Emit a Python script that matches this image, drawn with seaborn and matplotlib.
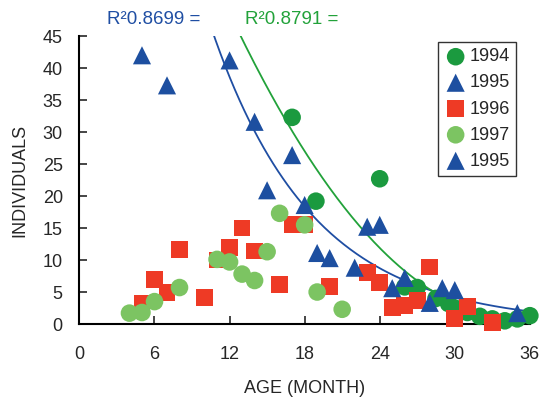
import numpy as np
import pandas as pd
import matplotlib
matplotlib.use('Agg')
import matplotlib.pyplot as plt
import seaborn as sns

# 1994 (dark green circles)
age_1994 = [17, 18.9, 24, 26, 27, 28.5, 29.5, 30, 31, 32, 33, 34, 35, 36]
ind_1994 = [32.3, 19.2, 22.7, 5.8, 5.7, 4.0, 3.2, 2.5, 1.8, 1.2, 0.8, 0.5, 0.8, 1.3]

# 1995 (blue triangles)
age_1995 = [5, 7, 12, 14, 15, 17, 18, 19, 20]
ind_1995 = [42.0, 37.3, 41.2, 31.6, 20.9, 26.4, 18.6, 11.1, 10.3]

# 1996 (red squares)
age_1996 = [5, 6, 7, 8, 10, 11, 12, 13, 14, 16, 17, 18, 20, 23, 24, 25, 26, 27, 28, 30, 31, 33]
ind_1996 = [3.3, 6.9, 4.9, 11.7, 4.1, 10.0, 12.0, 15.0, 11.4, 6.2, 15.5, 15.5, 5.9,
            8.1, 6.5, 2.6, 2.9, 3.7, 8.9, 0.9, 2.7, 0.2]

# 1997 (light green circles)
age_1997 = [4, 5, 6, 8, 11, 12, 13, 14, 15, 16, 18, 19, 21]
ind_1997 = [1.7, 1.8, 3.5, 5.7, 10.1, 9.7, 7.8, 6.8, 11.3, 17.3, 15.5, 5.0, 2.3]

# 1995 (second legend entry)
age_1995b = [22, 23, 24, 25, 26, 28, 29, 30, 35]
ind_1995b = [8.8, 15.2, 15.5, 5.6, 7.2, 3.3, 5.6, 5.3, 1.7]

# trendlines
blue_a, blue_b = 171.0, 0.124          # y = a*exp(-b*x)
green_k, green_x0, green_c = 0.09, 35.0, 1.0   # y = k*(x-x0)^2 + c

c_dkgreen = '#1b9a3f'
c_blue = '#1d4fa0'
c_red = '#ee3a25'
c_ltgreen = '#7cc462'
c_blueline = '#1f4ea3'
c_greenline = '#22a23a'

sns.set_style('white')
plt.rcParams['font.family'] = ['Liberation Sans', 'DejaVu Sans']

fig = plt.figure(figsize=(5.44, 4.01), dpi=100)
ax = fig.add_axes([0.146, 0.192, 0.828, 0.718])

xb = np.linspace(10.5, 36, 200)
xg = np.linspace(12.6, 36, 200)
sns.lineplot(x=xb, y=blue_a * np.exp(-blue_b * xb), ax=ax, color=c_blueline, lw=1.3)
sns.lineplot(x=xg, y=green_k * (xg - green_x0) ** 2 + green_c, ax=ax, color=c_greenline, lw=1.3)

series = [
    (age_1994, ind_1994, '1994', 'o', c_dkgreen, 160),
    (age_1995, ind_1995, '1995', '^', c_blue, 170),
    (age_1996, ind_1996, '1996', 's', c_red, 145),
    (age_1997, ind_1997, '1997', 'o', c_ltgreen, 160),
    (age_1995b, ind_1995b, '1995', '^', c_blue, 170),
]
for xs, ys, lab, mk, col, sz in series:
    sns.scatterplot(x=xs, y=ys, ax=ax, marker=mk, color=col, s=sz,
                    edgecolor='none', label=lab, zorder=3, clip_on=False)

ax.set_xlim(0, 36)
ax.set_ylim(0, 45)
ax.set_xticks(range(0, 37, 6))
ax.set_yticks(range(0, 46, 5))
ax.tick_params(direction='in', length=6, width=1.2, labelsize=13,
               bottom=True, left=True)
ax.tick_params(axis='x', pad=16)
ax.tick_params(axis='y', pad=12)
for s in ['top', 'right']:
    ax.spines[s].set_visible(False)
for s in ['left', 'bottom']:
    ax.spines[s].set_linewidth(1.5)
    ax.spines[s].set_color('black')

ax.set_xlabel('AGE (MONTH)', fontsize=13, labelpad=12)
ax.set_ylabel('INDIVIDUALS', fontsize=13, labelpad=10)

leg = ax.legend(loc='upper right', bbox_to_anchor=(0.969, 0.979), fontsize=13,
                frameon=True, fancybox=False, borderpad=0.35, labelspacing=0.5,
                handletextpad=0.1, handlelength=1.3, borderaxespad=0)
leg.get_frame().set_edgecolor('black')
leg.get_frame().set_linewidth(1.0)

fig.text(0.197, 0.94, 'R²0.8699 =', color=c_blueline, fontsize=13.5)
fig.text(0.45, 0.94, 'R²0.8791 =', color=c_greenline, fontsize=13.5)

plt.savefig('out.png', dpi=100)
plt.close()
